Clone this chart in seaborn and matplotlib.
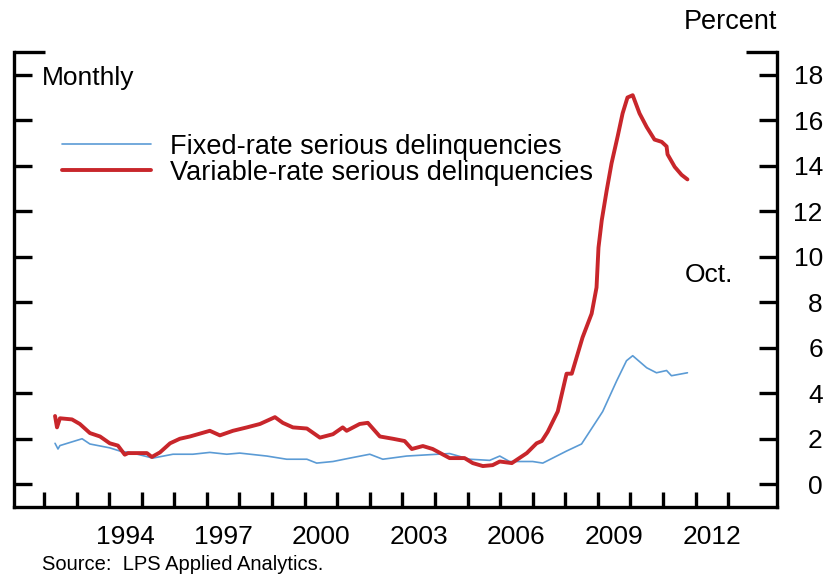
import numpy as np
import pandas as pd
import matplotlib
matplotlib.use("Agg")
import matplotlib.pyplot as plt
import seaborn as sns

# values (decimal year, percent)
fixed_year = [1992.34, 1992.43, 1992.49, 1993.17, 1993.41, 1994.02, 1994.33, 1994.73,
              1995.34, 1995.96, 1996.57, 1997.09, 1997.61, 1998.01, 1998.84, 1999.45,
              2000.07, 2000.37, 2000.87, 2001.39, 2002.00, 2002.40, 2003.13, 2003.84,
              2004.45, 2005.07, 2005.68, 2005.99, 2006.29, 2007.00, 2007.31, 2008.04,
              2008.50, 2009.06, 2009.15, 2009.58, 2009.88, 2010.07, 2010.50, 2010.80,
              2011.11, 2011.26, 2011.75]
fixed_rate = [1.80, 1.55, 1.70, 2.00, 1.77, 1.60, 1.46, 1.37,
              1.15, 1.32, 1.32, 1.40, 1.32, 1.37, 1.24, 1.10,
              1.10, 0.93, 1.00, 1.15, 1.32, 1.10, 1.24, 1.30,
              1.35, 1.10, 1.05, 1.24, 1.00, 1.00, 0.93, 1.46,
              1.77, 3.00, 3.20, 4.55, 5.43, 5.65, 5.12, 4.90,
              5.00, 4.77, 4.90]

var_year = [1992.34, 1992.40, 1992.49, 1992.86, 1993.10, 1993.41, 1993.72, 1994.02,
            1994.27, 1994.48, 1994.58, 1995.16, 1995.31, 1995.56, 1995.87, 1996.17,
            1996.48, 1997.09, 1997.40, 1997.80, 1998.23, 1998.63, 1999.09, 1999.33,
            1999.64, 2000.07, 2000.47, 2000.87, 2001.17, 2001.29, 2001.69, 2001.94,
            2002.31, 2002.71, 2003.07, 2003.29, 2003.63, 2003.93, 2004.45, 2004.91,
            2005.16, 2005.47, 2005.77, 2005.99, 2006.36, 2006.82, 2007.12, 2007.28,
            2007.46, 2007.77, 2008.04, 2008.20, 2008.53, 2008.81, 2008.96, 2009.02,
            2009.12, 2009.27, 2009.42, 2009.61, 2009.76, 2009.91, 2010.07, 2010.28,
            2010.50, 2010.74, 2010.96, 2011.11, 2011.14, 2011.36, 2011.57, 2011.75]
var_rate = [3.00, 2.50, 2.90, 2.85, 2.65, 2.25, 2.10, 1.80,
            1.70, 1.30, 1.37, 1.37, 1.20, 1.40, 1.80, 2.00,
            2.10, 2.35, 2.15, 2.35, 2.50, 2.65, 2.95, 2.70,
            2.50, 2.45, 2.05, 2.20, 2.50, 2.35, 2.65, 2.70,
            2.10, 2.00, 1.90, 1.55, 1.68, 1.55, 1.15, 1.15,
            0.93, 0.80, 0.84, 1.00, 0.93, 1.37, 1.80, 1.90,
            2.30, 3.20, 4.86, 4.86, 6.45, 7.50, 8.65, 10.40,
            11.60, 12.90, 14.10, 15.30, 16.30, 17.00, 17.10, 16.30,
            15.70, 15.15, 15.05, 14.85, 14.50, 13.95, 13.60, 13.40]

series_names = ["Fixed-rate serious delinquencies", "Variable-rate serious delinquencies"]
year_labels = [1994, 1997, 2000, 2003, 2006, 2009, 2012]
pct_ticks = list(range(0, 20, 2))

df = pd.concat([
    pd.DataFrame({"year": fixed_year, "rate": fixed_rate, "series": series_names[0]}),
    pd.DataFrame({"year": var_year, "rate": var_rate, "series": series_names[1]}),
])

sns.set_style("ticks")
plt.rcParams["font.family"] = ["Liberation Sans", "DejaVu Sans"]
plt.rcParams["text.color"] = "black"
plt.rcParams["xtick.color"] = "black"
plt.rcParams["ytick.color"] = "black"

FS = 19

fig = plt.figure(figsize=(8.33, 5.77), dpi=100)
ax = fig.add_axes([0.0168, 0.1213, 0.9160, 0.7886])

sns.lineplot(data=df, x="year", y="rate", hue="series", size="series",
             palette=["#5b9bd5", "#c8262b"], sizes=[1.2, 2.8],
             estimator=None, sort=False, ax=ax)

ax.set_xlim(1991.08, 2014.5)
ax.set_ylim(-1, 19)
ax.set_xlabel("")
ax.set_ylabel("")

for s in ["left", "right", "bottom"]:
    ax.spines[s].set_linewidth(2.4)
    ax.spines[s].set_color("black")
ax.spines["top"].set_visible(False)

# x: year-boundary ticks, labels in the middle of the year
ax.set_xticks(np.arange(1992, 2014), labels=[])
ax.set_xticks([y + 0.5 for y in year_labels], labels=[str(y) for y in year_labels], minor=True)
ax.tick_params(axis="x", which="major", direction="in", length=11, width=2.4)
ax.tick_params(axis="x", which="minor", length=0, pad=13, labelsize=FS)

# y: ticks both sides, labels on the right
ax.set_yticks(pct_ticks, labels=[str(v) for v in pct_ticks])
ax.set_yticks([19], minor=True)
ax.yaxis.tick_right()
ax.tick_params(axis="y", which="major", direction="in", length=13, width=2.4,
               left=True, right=True, labelleft=False, labelright=True,
               pad=33, labelsize=FS)
ax.tick_params(axis="y", which="minor", direction="in", length=22, width=2.4,
               left=True, right=True, labelleft=False, labelright=False)
for lab in ax.get_yticklabels():
    lab.set_horizontalalignment("right")

leg = ax.legend(loc="center left", bbox_to_anchor=(0.063, 0.763), frameon=False,
                fontsize=FS + 0.5, handlelength=3.3, handletextpad=0.68,
                labelspacing=0.0, borderpad=0, borderaxespad=0)

ax.text(0.037, 0.943, "Monthly", transform=ax.transAxes, ha="left", va="center", fontsize=FS)
ax.text(2012.4, 9.2, "Oct.", ha="center", va="center", fontsize=FS)
fig.text(0.933, 0.962, "Percent", ha="right", va="center", fontsize=FS + 0.5)
fig.text(0.05, 0.021, "Source:  LPS Applied Analytics.", ha="left", va="center", fontsize=14.5)

fig.savefig("out.png", dpi=100)
